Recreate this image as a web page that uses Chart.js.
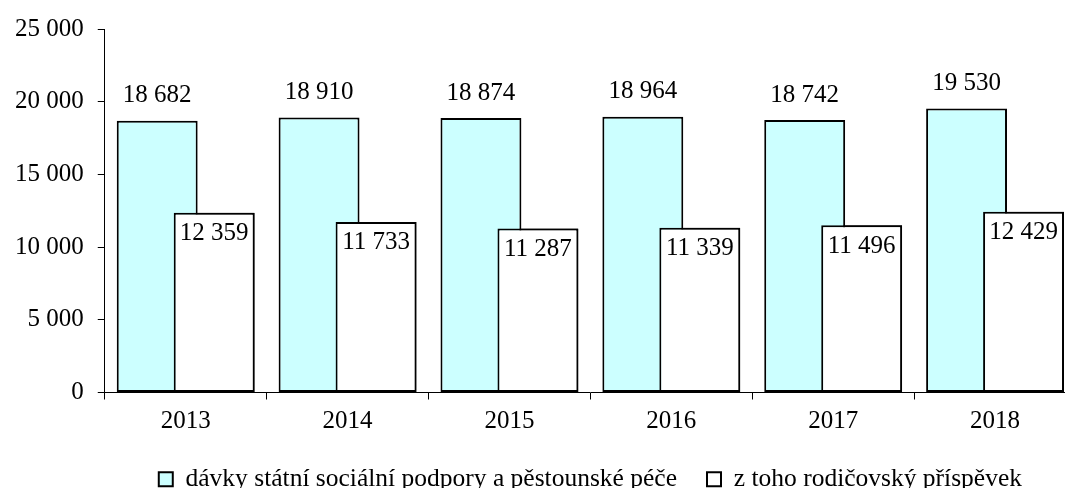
<!DOCTYPE html>
<html>
<head>
<meta charset="utf-8">
<script src="https://cdn.jsdelivr.net/npm/chart.js@4"></script>
<style>
  html, body { margin: 0; padding: 0; background: #fff; overflow: hidden; }
  #wrap { width: 1076px; height: 488px; }
</style>
</head>
<body>
<div id="wrap"><canvas id="chart"></canvas></div>
<script>
const years = ["2013", "2014", "2015", "2016", "2017", "2018"];
const benefits = [18682, 18910, 18874, 18964, 18742, 19530];
const parentalAllowance = [12359, 11733, 11287, 11339, 11496, 12429];
const seriesNames = ["dávky státní sociální podpory a pěstounské péče", "z toho rodičovský příspěvek"];

const FONT = "Liberation Serif";
const fmt = v => String(v).replace(/\B(?=(\d{3})+(?!\d))/g, " ");

// white bars overlap the cyan ones, so draw them again on top, then the labels
const overlapLabels = {
  id: "overlapLabels",
  afterDatasetsDraw(chart) {
    const ctx = chart.ctx;
    const area = chart.chartArea;
    ctx.save();
    ctx.beginPath();
    ctx.rect(area.left, area.top - 40, area.right - area.left, area.bottom - area.top + 45);
    ctx.clip();
    chart.getDatasetMeta(1).controller.draw();
    ctx.restore();

    ctx.save();
    ctx.font = "25px " + FONT;
    ctx.fillStyle = "#000";
    ctx.textAlign = "center";
    ctx.textBaseline = "middle";
    chart.getDatasetMeta(0).data.forEach((bar, i) => {
      ctx.fillText(fmt(benefits[i]), bar.x, bar.y - 25);
    });
    chart.getDatasetMeta(1).data.forEach((bar, i) => {
      ctx.fillText(fmt(parentalAllowance[i]), bar.x, bar.y + 21);
    });
    ctx.restore();
  }
};

new Chart(document.getElementById("chart"), {
  type: "bar",
  data: {
    labels: years,
    datasets: [
      {
        label: seriesNames[0],
        data: benefits,
        backgroundColor: "#ccffff",
        borderColor: "#000",
        borderWidth: 2,
        borderSkipped: false
      },
      {
        label: seriesNames[1],
        data: parentalAllowance,
        backgroundColor: "#ffffff",
        borderColor: "#000",
        borderWidth: 2,
        borderSkipped: false
      }
    ]
  },
  options: {
    responsive: true,
    maintainAspectRatio: false,
    animation: false,
    categoryPercentage: 0.704,
    barPercentage: 1.42,
    layout: { padding: { top: 3, left: 1, right: 0, bottom: -14 } },
    plugins: {
      legend: {
        position: "bottom",
        fullSize: false,
        labels: {
          color: "#000",
          font: { family: FONT, size: 25.5 },
          boxWidth: 14,
          boxHeight: 14,
          padding: 30
        }
      },
      tooltip: { enabled: false }
    },
    scales: {
      x: {
        afterFit: scale => { scale.height = 44; },
        grid: { drawOnChartArea: false, offset: true, tickLength: 7, color: "#000" },
        border: { color: "#000", width: 1 },
        ticks: { color: "#000", font: { family: FONT, size: 25 }, padding: 7 }
      },
      y: {
        min: 0,
        max: 25000,
        grid: { drawOnChartArea: false, tickLength: 7, color: "#000" },
        border: { color: "#000", width: 1 },
        ticks: {
          stepSize: 5000,
          color: "#000",
          font: { family: FONT, size: 25 },
          padding: 14,
          callback: v => fmt(v)
        }
      }
    }
  },
  plugins: [overlapLabels]
});
</script>
</body>
</html>
